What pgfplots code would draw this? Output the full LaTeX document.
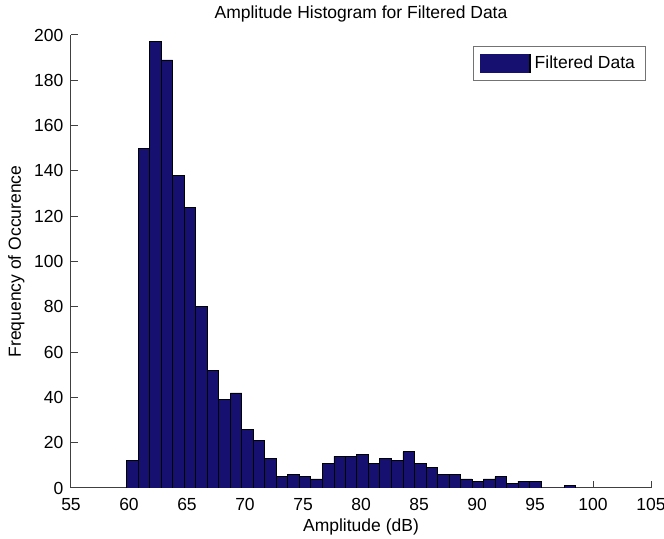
\documentclass[border=0pt]{standalone}
\usepackage{fontspec}
\setmainfont{Liberation Sans}
\usepackage{pgfplots}
\pgfplotsset{compat=1.18}
\definecolor{barnavy}{RGB}{22,16,112}
\begin{document}
\begin{tikzpicture}
\begin{axis}[
  scale only axis,
  width=348pt, height=271.8pt,
  xmin=55, xmax=105, ymin=0, ymax=200,
  xtick={55,60,65,70,75,80,85,90,95,100,105},
  ytick={0,20,40,60,80,100,120,140,160,180,200},
  axis lines*=left,
  axis line style={black!75, line width=0.6pt},
  tick align=inside,
  major tick length=4pt,
  tick style={black!75, line width=0.6pt},
  /pgf/number format/assume math mode=true,
  tick label style={font=\fontsize{10.5}{12}\selectfont},
  xticklabel style={yshift=-2.5pt},
  yticklabel style={xshift=-1pt},
  label style={font=\fontsize{10.5}{12}\selectfont},
  title style={font=\fontsize{10.5}{12}\selectfont, yshift=-2pt},
  title={Amplitude Histogram for Filtered Data},
  xlabel={Amplitude (dB)},
  ylabel={Frequency of Occurence},
  xlabel style={yshift=2pt},
  ylabel style={yshift=-1pt},
  legend style={at={(0.99,0.975)}, anchor=north east, draw=black!55,
    font=\fontsize{10.5}{12}\selectfont, inner xsep=4pt, inner ysep=3.5pt},
  legend cell align=left,
]
\addplot[ybar interval, fill=barnavy, draw=black, line width=0.4pt,
  legend image code/.code={
    \fill[barnavy] (0pt,-5.5pt) rectangle (30pt,5.5pt);
    \draw[black, line width=1.6pt] (30pt,-5.5pt) -- (30pt,5.5pt);
  }] coordinates {
(59.80,12) (60.79,150) (61.78,197) (62.78,189) (63.77,138) (64.76,124)
(65.75,80) (66.74,52) (67.74,39) (68.73,42) (69.72,26) (70.71,21)
(71.70,13) (72.70,5) (73.69,6) (74.68,5) (75.67,4) (76.66,11)
(77.66,14) (78.65,14) (79.64,15) (80.63,11) (81.62,13) (82.62,12)
(83.61,16) (84.60,11) (85.59,9) (86.58,6) (87.58,6) (88.57,4)
(89.56,3) (90.55,4) (91.54,5) (92.54,2) (93.53,3) (94.52,3)
(95.51,0) (96.50,0) (97.50,1) (98.49,1)
};
\addlegendentry{Filtered Data}
\end{axis}
\pgfresetboundingbox
\path (current axis.south west) ++(-42.6pt,-30.6pt) rectangle ++(398.4pt,323.4pt);
\end{tikzpicture}
\end{document}
